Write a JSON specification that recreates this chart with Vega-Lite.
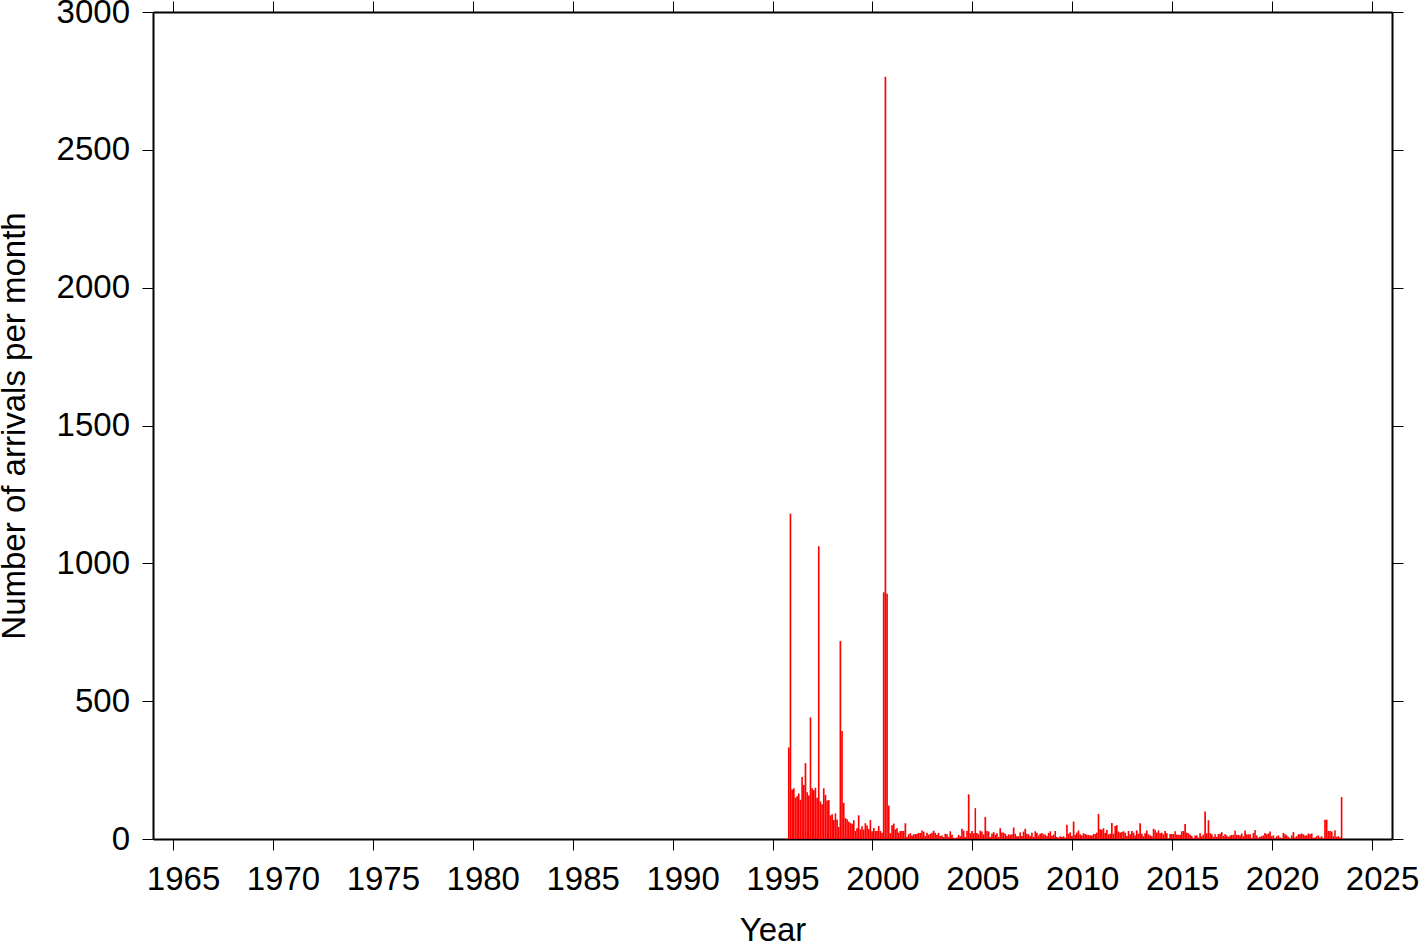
{
"$schema": "https://vega.github.io/schema/vega-lite/v6.json",
"width": 1239, "height": 827,
"autosize": {"type": "none"},
"padding": {"left": 153, "top": 12, "right": 27, "bottom": 103},
"background": "white",
"config": {
  "view": {"stroke": null},
  "axis": {"domainColor": "black", "domainWidth": 2, "tickColor": "black", "tickWidth": 1, "tickSize": 11, "labelFont": "Liberation Sans", "labelFontSize": 33, "labelColor": "black", "titleFont": "Liberation Sans", "titleFontSize": 33, "titleFontWeight": "normal", "titleColor": "black", "grid": false, "labelFlush": false, "labelOverlap": false, "labelBound": false}
},
"data": {"values": [
{"t":"1995-10","n":332},{"t":"1995-11","n":1180},{"t":"1995-12","n":180},
{"t":"1996-01","n":184},{"t":"1996-02","n":150},{"t":"1996-03","n":155},{"t":"1996-04","n":165},{"t":"1996-05","n":142},{"t":"1996-06","n":225},{"t":"1996-07","n":196},{"t":"1996-08","n":275},{"t":"1996-09","n":170},{"t":"1996-10","n":158},{"t":"1996-11","n":441},{"t":"1996-12","n":184},
{"t":"1997-01","n":177},{"t":"1997-02","n":186},{"t":"1997-03","n":150},{"t":"1997-04","n":1062},{"t":"1997-05","n":136},{"t":"1997-06","n":126},{"t":"1997-07","n":184},{"t":"1997-08","n":160},{"t":"1997-09","n":140},{"t":"1997-10","n":141},{"t":"1997-11","n":86},{"t":"1997-12","n":90},
{"t":"1998-01","n":69},{"t":"1998-02","n":93},{"t":"1998-03","n":71},{"t":"1998-04","n":44},{"t":"1998-05","n":718},{"t":"1998-06","n":392},{"t":"1998-07","n":131},{"t":"1998-08","n":76},{"t":"1998-09","n":72},{"t":"1998-10","n":63},{"t":"1998-11","n":58},{"t":"1998-12","n":55},
{"t":"1999-01","n":68},{"t":"1999-02","n":29},{"t":"1999-03","n":39},{"t":"1999-04","n":86},{"t":"1999-05","n":35},{"t":"1999-06","n":46},{"t":"1999-07","n":34},{"t":"1999-08","n":57},{"t":"1999-09","n":49},{"t":"1999-10","n":36},{"t":"1999-11","n":69},{"t":"1999-12","n":28},
{"t":"2000-01","n":40},{"t":"2000-02","n":29},{"t":"2000-03","n":29},{"t":"2000-04","n":47},{"t":"2000-05","n":29},{"t":"2000-06","n":23},{"t":"2000-07","n":895},{"t":"2000-08","n":2765},{"t":"2000-09","n":890},{"t":"2000-10","n":121},{"t":"2000-11","n":21},{"t":"2000-12","n":50},
{"t":"2001-01","n":56},{"t":"2001-02","n":35},{"t":"2001-03","n":39},{"t":"2001-04","n":23},{"t":"2001-05","n":29},{"t":"2001-06","n":29},{"t":"2001-07","n":29},{"t":"2001-08","n":57},{"t":"2001-09","n":8},{"t":"2001-10","n":17},{"t":"2001-11","n":21},{"t":"2001-12","n":13},
{"t":"2002-01","n":17},{"t":"2002-02","n":18},{"t":"2002-03","n":18},{"t":"2002-04","n":22},{"t":"2002-05","n":22},{"t":"2002-06","n":31},{"t":"2002-07","n":27},{"t":"2002-08","n":11},{"t":"2002-09","n":23},{"t":"2002-10","n":16},{"t":"2002-11","n":19},{"t":"2002-12","n":23},
{"t":"2003-01","n":30},{"t":"2003-02","n":22},{"t":"2003-03","n":15},{"t":"2003-04","n":22},{"t":"2003-05","n":11},{"t":"2003-06","n":13},{"t":"2003-07","n":7},{"t":"2003-08","n":19},{"t":"2003-09","n":17},{"t":"2003-10","n":8},{"t":"2003-11","n":28},{"t":"2003-12","n":15},
{"t":"2004-01","n":5},{"t":"2004-02","n":4},{"t":"2004-03","n":5},{"t":"2004-04","n":15},{"t":"2004-05","n":10},{"t":"2004-06","n":37},{"t":"2004-07","n":30},{"t":"2004-08","n":7},{"t":"2004-09","n":30},{"t":"2004-10","n":162},{"t":"2004-11","n":21},{"t":"2004-12","n":29},
{"t":"2005-01","n":21},{"t":"2005-02","n":112},{"t":"2005-03","n":22},{"t":"2005-04","n":17},{"t":"2005-05","n":30},{"t":"2005-06","n":27},{"t":"2005-07","n":17},{"t":"2005-08","n":80},{"t":"2005-09","n":29},{"t":"2005-10","n":27},{"t":"2005-11","n":7},{"t":"2005-12","n":19},
{"t":"2006-01","n":25},{"t":"2006-02","n":15},{"t":"2006-03","n":21},{"t":"2006-04","n":7},{"t":"2006-05","n":39},{"t":"2006-06","n":24},{"t":"2006-07","n":23},{"t":"2006-08","n":19},{"t":"2006-09","n":11},{"t":"2006-10","n":17},{"t":"2006-11","n":15},{"t":"2006-12","n":17},
{"t":"2007-01","n":42},{"t":"2007-02","n":19},{"t":"2007-03","n":10},{"t":"2007-04","n":10},{"t":"2007-05","n":24},{"t":"2007-06","n":11},{"t":"2007-07","n":27},{"t":"2007-08","n":37},{"t":"2007-09","n":19},{"t":"2007-10","n":17},{"t":"2007-11","n":11},{"t":"2007-12","n":23},
{"t":"2008-01","n":8},{"t":"2008-02","n":28},{"t":"2008-03","n":23},{"t":"2008-04","n":13},{"t":"2008-05","n":19},{"t":"2008-06","n":22},{"t":"2008-07","n":17},{"t":"2008-08","n":16},{"t":"2008-09","n":11},{"t":"2008-10","n":22},{"t":"2008-11","n":28},{"t":"2008-12","n":12},
{"t":"2009-01","n":16},{"t":"2009-02","n":29},{"t":"2009-03","n":7},{"t":"2009-04","n":5},{"t":"2009-05","n":10},{"t":"2009-06","n":7},{"t":"2009-07","n":10},{"t":"2009-08","n":5},{"t":"2009-09","n":52},{"t":"2009-10","n":19},{"t":"2009-11","n":24},{"t":"2009-12","n":11},
{"t":"2010-01","n":63},{"t":"2010-02","n":15},{"t":"2010-03","n":23},{"t":"2010-04","n":31},{"t":"2010-05","n":17},{"t":"2010-06","n":13},{"t":"2010-07","n":21},{"t":"2010-08","n":18},{"t":"2010-09","n":15},{"t":"2010-10","n":15},{"t":"2010-11","n":13},{"t":"2010-12","n":13},
{"t":"2011-01","n":18},{"t":"2011-02","n":18},{"t":"2011-03","n":23},{"t":"2011-04","n":91},{"t":"2011-05","n":35},{"t":"2011-06","n":34},{"t":"2011-07","n":39},{"t":"2011-08","n":22},{"t":"2011-09","n":33},{"t":"2011-10","n":17},{"t":"2011-11","n":19},{"t":"2011-12","n":58},
{"t":"2012-01","n":19},{"t":"2012-02","n":47},{"t":"2012-03","n":50},{"t":"2012-04","n":27},{"t":"2012-05","n":23},{"t":"2012-06","n":25},{"t":"2012-07","n":28},{"t":"2012-08","n":23},{"t":"2012-09","n":11},{"t":"2012-10","n":29},{"t":"2012-11","n":17},{"t":"2012-12","n":29},
{"t":"2013-01","n":23},{"t":"2013-02","n":13},{"t":"2013-03","n":31},{"t":"2013-04","n":19},{"t":"2013-05","n":57},{"t":"2013-06","n":19},{"t":"2013-07","n":10},{"t":"2013-08","n":21},{"t":"2013-09","n":31},{"t":"2013-10","n":17},{"t":"2013-11","n":13},{"t":"2013-12","n":10},
{"t":"2014-01","n":37},{"t":"2014-02","n":34},{"t":"2014-03","n":23},{"t":"2014-04","n":31},{"t":"2014-05","n":21},{"t":"2014-06","n":23},{"t":"2014-07","n":17},{"t":"2014-08","n":29},{"t":"2014-09","n":21},{"t":"2014-10","n":2},{"t":"2014-11","n":18},{"t":"2014-12","n":18},
{"t":"2015-01","n":18},{"t":"2015-02","n":28},{"t":"2015-03","n":16},{"t":"2015-04","n":15},{"t":"2015-05","n":15},{"t":"2015-06","n":28},{"t":"2015-07","n":29},{"t":"2015-08","n":54},{"t":"2015-09","n":23},{"t":"2015-10","n":21},{"t":"2015-11","n":15},{"t":"2015-12","n":11},
{"t":"2016-01","n":2},{"t":"2016-02","n":13},{"t":"2016-03","n":13},{"t":"2016-04","n":5},{"t":"2016-05","n":21},{"t":"2016-06","n":10},{"t":"2016-07","n":16},{"t":"2016-08","n":100},{"t":"2016-09","n":21},{"t":"2016-10","n":68},{"t":"2016-11","n":21},{"t":"2016-12","n":17},
{"t":"2017-01","n":8},{"t":"2017-02","n":17},{"t":"2017-03","n":8},{"t":"2017-04","n":18},{"t":"2017-05","n":19},{"t":"2017-06","n":25},{"t":"2017-07","n":11},{"t":"2017-08","n":17},{"t":"2017-09","n":13},{"t":"2017-10","n":8},{"t":"2017-11","n":13},{"t":"2017-12","n":15},
{"t":"2018-01","n":15},{"t":"2018-02","n":31},{"t":"2018-03","n":15},{"t":"2018-04","n":15},{"t":"2018-05","n":13},{"t":"2018-06","n":20},{"t":"2018-07","n":10},{"t":"2018-08","n":31},{"t":"2018-09","n":17},{"t":"2018-10","n":17},{"t":"2018-11","n":17},{"t":"2018-12","n":5},
{"t":"2019-01","n":22},{"t":"2019-02","n":33},{"t":"2019-03","n":13},{"t":"2019-04","n":5},{"t":"2019-05","n":8},{"t":"2019-06","n":10},{"t":"2019-07","n":13},{"t":"2019-08","n":22},{"t":"2019-09","n":17},{"t":"2019-10","n":20},{"t":"2019-11","n":27},{"t":"2019-12","n":10},
{"t":"2020-01","n":13},{"t":"2020-02","n":3},{"t":"2020-03","n":10},{"t":"2020-04","n":13},{"t":"2020-05","n":5},{"t":"2020-06","n":3},{"t":"2020-07","n":22},{"t":"2020-08","n":17},{"t":"2020-09","n":13},{"t":"2020-10","n":8},{"t":"2020-11","n":3},{"t":"2020-12","n":13},
{"t":"2021-01","n":25},{"t":"2021-02","n":5},{"t":"2021-03","n":10},{"t":"2021-04","n":17},{"t":"2021-05","n":17},{"t":"2021-06","n":20},{"t":"2021-07","n":17},{"t":"2021-08","n":13},{"t":"2021-09","n":13},{"t":"2021-10","n":20},{"t":"2021-11","n":17},{"t":"2021-12","n":20},
{"t":"2022-01","n":5},{"t":"2022-02","n":5},{"t":"2022-03","n":10},{"t":"2022-04","n":13},{"t":"2022-05","n":5},{"t":"2022-06","n":10},{"t":"2022-07","n":3},{"t":"2022-08","n":70},{"t":"2022-09","n":70},{"t":"2022-10","n":29},{"t":"2022-11","n":29},{"t":"2022-12","n":27},
{"t":"2023-01","n":10},{"t":"2023-02","n":32},{"t":"2023-03","n":8},{"t":"2023-04","n":10},{"t":"2023-05","n":5},{"t":"2023-06","n":152}
]},
"layer": [
  {
    "mark": {"type": "bar", "color": "#ff0000", "binSpacing": 0},
    "encoding": {
      "x": {"field": "t", "type": "temporal", "timeUnit": "utcyearmonth",
        "scale": {"domain": [{"year": 1964, "month": 1, "date": 1, "utc": true}, {"year": 2026, "month": 1, "date": 1, "utc": true}]},
        "axis": {"orient": "bottom", "title": "Year", "format": "%Y", "labelOffset": 10, "labelPadding": 13, "titlePadding": 18,
          "values": [{"year":1965,"utc":true},{"year":1970,"utc":true},{"year":1975,"utc":true},{"year":1980,"utc":true},{"year":1985,"utc":true},{"year":1990,"utc":true},{"year":1995,"utc":true},{"year":2000,"utc":true},{"year":2005,"utc":true},{"year":2010,"utc":true},{"year":2015,"utc":true},{"year":2020,"utc":true},{"year":2025,"utc":true}]}},
      "y": {"field": "n", "type": "quantitative", "scale": {"domain": [0, 3000], "nice": false},
        "axis": {"orient": "left", "title": "Number of arrivals per month", "format": "d", "values": [0, 500, 1000, 1500, 2000, 2500, 3000], "labelPadding": 12.5, "titlePadding": 25}}
    }
  },
  {
    "mark": {"type": "bar", "opacity": 0, "binSpacing": 0},
    "encoding": {
      "x": {"field": "t", "type": "temporal", "timeUnit": "utcyearmonth",
        "axis": {"orient": "top", "title": null, "labels": false,
          "values": [{"year":1965,"utc":true},{"year":1970,"utc":true},{"year":1975,"utc":true},{"year":1980,"utc":true},{"year":1985,"utc":true},{"year":1990,"utc":true},{"year":1995,"utc":true},{"year":2000,"utc":true},{"year":2005,"utc":true},{"year":2010,"utc":true},{"year":2015,"utc":true},{"year":2020,"utc":true},{"year":2025,"utc":true}]}},
      "y": {"field": "n", "type": "quantitative",
        "axis": {"orient": "right", "title": null, "labels": false, "values": [0, 500, 1000, 1500, 2000, 2500, 3000]}}
    }
  }
],
"resolve": {"axis": {"x": "independent", "y": "independent"}}
}
